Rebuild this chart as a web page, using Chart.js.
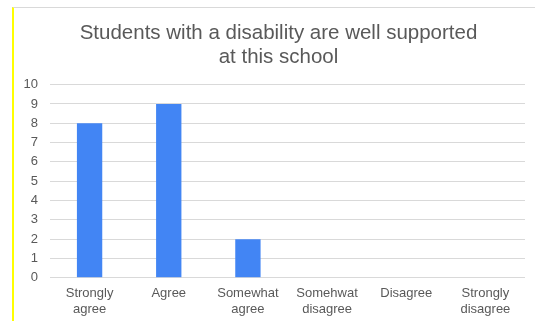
<!DOCTYPE html>
<html>
<head>
<meta charset="utf-8">
<script src="https://cdn.jsdelivr.net/npm/chart.js@4"></script>
<style>
    html, body { margin: 0; padding: 0; background: #fff; }
    #marco {
        position: absolute; left: 12px; top: 7px;
        width: 523px; height: 314px;
        border-left: 2px solid #ffff00;
        border-top: 1px solid #d9d9d9;
        box-sizing: border-box;
    }
    #grafico { display: block; }
</style>
</head>
<body>
<div id="marco"><canvas id="grafico" width="521" height="313"></canvas></div>
<script>
// Datos del gráfico
const categorias = [
    ["Strongly", "agree"], "Agree", ["Somewhat", "agree"],
    ["Somehwat", "disagree"], "Disagree", ["Strongly", "disagree"]
];
const valores = [8, 9, 2, 0, 0, 0];
const titulo = ["Students with a disability are well supported", "at this school"];

const ctx = document.getElementById('grafico').getContext('2d');

new Chart(ctx, {
    type: 'bar',
    data: {
        labels: categorias,
        datasets: [{
            label: 'Respuestas',
            data: valores,
            backgroundColor: '#4285f4',
            categoryPercentage: 1,
            barPercentage: 0.32
        }]
    },
    options: {
        responsive: false,
        animation: false,
        layout: { padding: { left: 8, right: 0, top: 8, bottom: 4 } },
        plugins: {
            legend: { display: false },
            tooltip: { enabled: false },
            title: {
                display: true,
                text: titulo,
                color: '#595959',
                font: { family: 'Liberation Sans', size: 20.5, weight: 'normal', lineHeight: 1.15 },
                padding: { top: 5.5, bottom: 16 }
            }
        },
        scales: {
            x: {
                grid: { display: false },
                border: { display: false },
                ticks: {
                    color: '#595959',
                    font: { family: 'Liberation Sans', size: 13 },
                    maxRotation: 0,
                    autoSkip: false,
                    padding: 0
                }
            },
            y: {
                min: 0,
                max: 10,
                // ancho fijo del eje para que la rejilla empiece donde en el original
                afterFit: (eje) => { eje.width = 28; },
                ticks: {
                    stepSize: 1,
                    autoSkip: false,
                    color: '#595959',
                    font: { family: 'Liberation Sans', size: 13 },
                    padding: 12
                },
                grid: { color: '#d9d9d9', drawTicks: false },
                border: { display: false }
            },
            // eje vacío a la derecha, solo deja el margen de 10px
            derecha: {
                type: 'linear',
                position: 'right',
                display: true,
                afterFit: (eje) => { eje.width = 10; },
                ticks: { display: false },
                grid: { display: false },
                border: { display: false }
            }
        }
    }
});
</script>
</body>
</html>
